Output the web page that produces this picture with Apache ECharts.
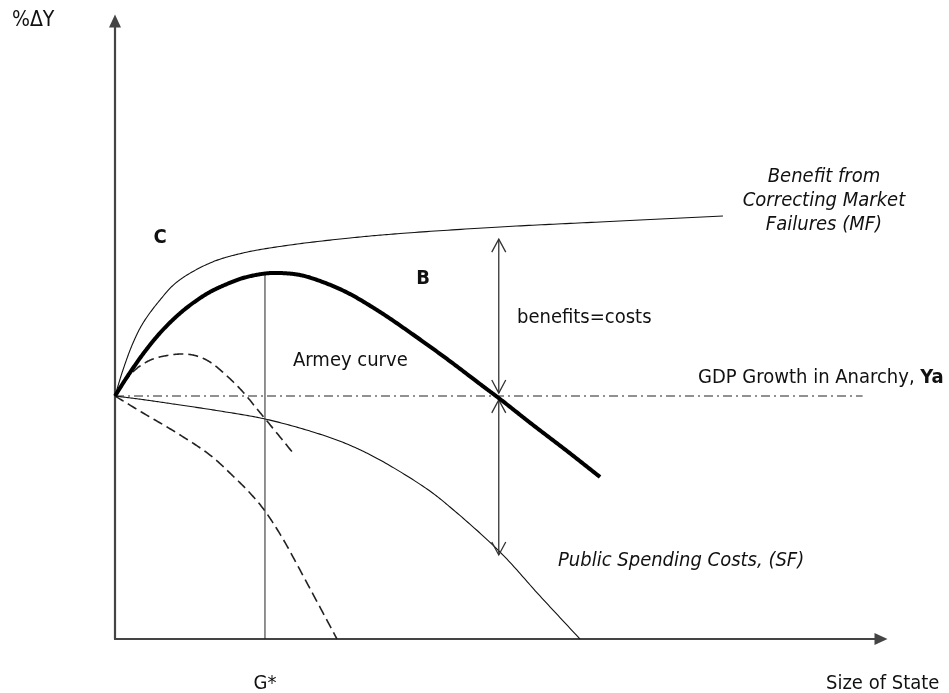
<!DOCTYPE html>
<html>
<head>
<meta charset="utf-8">
<script src="https://cdn.jsdelivr.net/npm/echarts@6/dist/echarts.min.js"></script>
<style>
html,body{margin:0;padding:0;background:#fff;}
#chart{width:949px;height:693px;}
</style>
</head>
<body>
<div id="chart"></div>
<script>
// ---- Data (abstract units: size of state 0..100, %ΔY 0..100) ----
const xRange = [0, 100];
const yRange = [0, 100];
const anarchyGrowth = 39.32;         // Ya
const anarchyLineEnd = 97.6;
const gStar = 19.58;                 // G*
const mfCurve = [[0,39.32],[1.04,43.53],[2.35,47.90],[3.66,51.13],[5.87,54.85],[8.09,57.77],[12.40,60.84],[16.71,62.46],[22.85,63.75],[30.68,64.89],[37.21,65.61],[50.26,66.67],[63.32,67.48],[79.37,68.45]];
const armeyCurve = [[0,39.32],[1.57,42.39],[3.66,46.12],[5.87,49.51],[8.09,52.27],[10.18,54.37],[12.40,56.15],[14.62,57.44],[16.71,58.41],[19.58,59.14],[21.54,59.22],[24.15,58.90],[26.76,57.93],[30.29,56.07],[34.60,52.91],[38.90,49.27],[43.34,45.31],[47.65,41.26],[50.26,38.83],[54.57,34.63],[59.01,30.42],[63.32,26.21]];
const sfCurve = [[0,39.32],[4.05,38.67],[8.09,37.94],[13.71,36.89],[19.58,35.60],[25.85,33.50],[30.29,31.55],[34.60,28.96],[40.73,24.27],[43.73,21.36],[50.26,14.08],[55.48,6.96],[60.70,0]];
const dashedUpper = [[0,39.32],[1.31,41.75],[2.61,43.53],[3.66,44.50],[4.96,45.31],[6.79,45.87],[8.88,46.12],[10.70,45.79],[12.40,44.82],[14.62,42.56],[16.71,39.97],[18.54,37.22],[19.84,35.28],[23.24,30.10]];
const dashedLower = [[0,39.32],[3.66,36.57],[8.09,33.33],[12.40,29.77],[15.40,26.38],[17.62,23.62],[19.58,20.71],[21.93,16.18],[24.15,11.17],[28.98,0]];
const gapArrows = [[50.1, 64.7, 39.8],[50.1, 38.7, 13.6]];  // x, from, to

const FONT = "'DejaVu Sans Condensed','DejaVu Sans',sans-serif";
const TXT = '#111';

const armeyPeak = Math.max(...armeyCurve.map(p => p[1]));

// centripetal Catmull-Rom through the pixel positions of the data points (drawing only)
function splinePixels(P) {
  const n = P.length;
  if (n < 3) return P;
  const ext = [[2*P[0][0]-P[1][0], 2*P[0][1]-P[1][1]]].concat(P, [[2*P[n-1][0]-P[n-2][0], 2*P[n-1][1]-P[n-2][1]]]);
  const out = [P[0]];
  const lerp = (a, b, ta, tb, t) => {
    if (tb === ta) return a;
    const u = (t - ta) / (tb - ta);
    return [a[0] + (b[0]-a[0])*u, a[1] + (b[1]-a[1])*u];
  };
  const dist = (a, b) => Math.pow(Math.hypot(b[0]-a[0], b[1]-a[1]), 0.5) || 1e-6;
  for (let i = 1; i < ext.length - 2; i++) {
    const p0 = ext[i-1], p1 = ext[i], p2 = ext[i+1], p3 = ext[i+2];
    const t0 = 0, t1 = t0 + dist(p0, p1), t2 = t1 + dist(p1, p2), t3 = t2 + dist(p2, p3);
    const steps = 24;
    for (let s = 1; s <= steps; s++) {
      const t = t1 + (t2 - t1) * s / steps;
      const A1 = lerp(p0, p1, t0, t1, t), A2 = lerp(p1, p2, t1, t2, t), A3 = lerp(p2, p3, t2, t3, t);
      const B1 = lerp(A1, A2, t0, t2, t), B2 = lerp(A2, A3, t1, t3, t);
      out.push(lerp(B1, B2, t1, t2, t));
    }
  }
  return out;
}

function curveSeries(name, pts, lineStyle, z) {
  return {
    type: 'custom', name: name, data: pts, z: z || 3, silent: true,
    renderItem: function (params, api) {
      if (params.dataIndex !== 0) return null;
      const P = pts.map(p => api.coord(p));
      return {type: 'polyline', shape: {points: splinePixels(P)},
        style: Object.assign({fill: null, lineJoin: 'round'}, lineStyle)};
    }
  };
}

const chart = echarts.init(document.getElementById('chart'), null, {renderer: 'canvas'});

function txt(x, y, text, extra) {
  return {
    type: 'text', x: x, y: y, silent: true, z: 100,
    style: Object.assign({
      text: text, fontFamily: FONT, fontSize: 20, fill: TXT,
      align: 'left', verticalAlign: 'middle',
      textAlign: 'left', textVerticalAlign: 'middle'
    }, extra || {})
  };
}

const option = {
  animation: false,
  backgroundColor: '#fff',
  grid: {left: 115, right: 68, top: 21, bottom: 54, containLabel: false},
  xAxis: {
    type: 'value', min: xRange[0], max: xRange[1],
    axisLine: {show: true, onZero: false, symbol: ['none', 'triangle'], symbolSize: [12, 13],
      lineStyle: {color: '#444', width: 2.2}},
    axisTick: {show: false}, axisLabel: {show: false}, splitLine: {show: false}
  },
  yAxis: {
    type: 'value', min: yRange[0], max: yRange[1],
    axisLine: {show: true, onZero: false, symbol: ['none', 'triangle'], symbolSize: [12, 13],
      lineStyle: {color: '#444', width: 2.2}},
    axisTick: {show: false}, axisLabel: {show: false}, splitLine: {show: false}
  },
  series: [
    curveSeries('MF', mfCurve, {stroke: '#111', lineWidth: 1.1}),
    curveSeries('SF', sfCurve, {stroke: '#111', lineWidth: 1.1}),
    curveSeries('dashedUpper', dashedUpper, {stroke: '#222', lineWidth: 1.6, lineDash: [10, 5]}),
    curveSeries('dashedLower', dashedLower, {stroke: '#222', lineWidth: 1.6, lineDash: [10, 5]}),
    {type: 'line', name: 'Ya', data: [[0, anarchyGrowth], [anarchyLineEnd, anarchyGrowth]], symbol: 'none',
      lineStyle: {color: '#222', width: 1, type: [9, 4, 2, 4]}},
    {type: 'line', name: 'Gstar', data: [[gStar, 0], [gStar, armeyPeak]], symbol: 'none',
      lineStyle: {color: '#222', width: 1}},
    curveSeries('Armey', armeyCurve, {stroke: '#000', lineWidth: 4}, 5),
    {type: 'custom', name: 'gaps', data: gapArrows, z: 4,
      renderItem: function (params, api) {
        const a = api.coord([api.value(0), api.value(1)]);
        const b = api.coord([api.value(0), api.value(2)]);
        const dir = b[1] > a[1] ? 1 : -1;
        const hl = 13, hw = 7;
        return {type: 'group', children: [
          {type: 'line', shape: {x1: a[0], y1: a[1], x2: b[0], y2: b[1]},
            style: {stroke: '#333', lineWidth: 1.3}},
          {type: 'polyline', shape: {points: [[a[0]-hw, a[1]+dir*hl],[a[0], a[1]],[a[0]+hw, a[1]+dir*hl]]},
            style: {stroke: '#333', lineWidth: 1.3, fill: null}},
          {type: 'polyline', shape: {points: [[b[0]-hw, b[1]-dir*hl],[b[0], b[1]],[b[0]+hw, b[1]-dir*hl]]},
            style: {stroke: '#333', lineWidth: 1.3, fill: null}}
        ]};
      }
    }
  ],
  graphic: [
    txt(12, 21, '%ΔY', {fontSize: 21}),
    txt(160, 238, 'C', {fontWeight: 'bold', align: 'center', textAlign: 'center'}),
    txt(423, 279, 'B', {fontWeight: 'bold', align: 'center', textAlign: 'center'}),
    txt(517, 318, 'benefits=costs'),
    txt(293, 361, 'Armey curve'),
    txt(698, 378, '{n|GDP Growth in Anarchy, }{b|Ya}', {
      rich: {
        n: {fontFamily: FONT, fontSize: 20, fill: TXT, color: TXT},
        b: {fontFamily: FONT, fontSize: 20, fontWeight: 'bold', fill: TXT, color: TXT}
      }
    }),
    txt(824, 201, 'Benefit from\nCorrecting Market\nFailures (MF)', {fontStyle: 'italic', align: 'center', textAlign: 'center', lineHeight: 24}),
    txt(558, 561, 'Public Spending Costs, (SF)', {fontStyle: 'italic'}),
    txt(265, 684, 'G*', {align: 'center', textAlign: 'center'}),
    txt(826, 684, 'Size of State')
  ]
};
chart.setOption(option);
</script>
</body>
</html>
